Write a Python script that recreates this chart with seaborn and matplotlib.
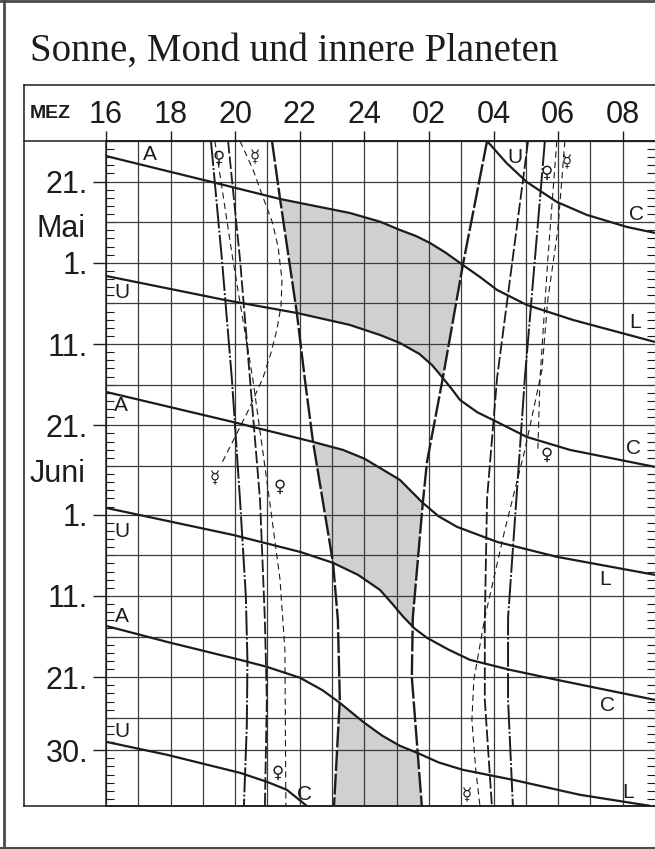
import numpy as np
import matplotlib
matplotlib.use("Agg")
import matplotlib.pyplot as plt
import seaborn as sns
from matplotlib.lines import Line2D

# ---------------- data ----------------
# x: time in hours MEZ (24 = midnight, 26 = 02 h, 33 = 09 h next morning)
# y: day of year (106 = 16 April, 121 = 1 May, 152 = 1 June, 181 = 30 June)
hour_ticks = [16, 18, 20, 22, 24, 26, 28, 30, 32]
hour_labels = ["16", "18", "20", "22", "24", "02", "04", "06", "08"]
date_ticks = [111, 121, 131, 141, 152, 162, 172, 181]
date_labels = ["21.", "1.", "11.", "21.", "1.", "11.", "21.", "30."]
month_labels = ["Mai", "Juni"]
month_days = [116.8, 147.0]
grid_days = [106, 111, 116, 121, 126, 131, 136, 141, 146, 152, 157, 162, 167, 172, 177, 181]

# Moon: A = Aufgang (rise), U = Untergang (set)
A1_h = [16.00, 19.28, 21.39, 23.55, 24.50, 25.10, 25.60, 26.03, 26.50, 27.05, 27.60, 28.11, 29.03, 30.46, 33.00]
A1_d = [107.85, 111.05, 113.14, 114.86, 115.95, 116.95, 117.70, 118.55, 119.70, 121.26, 122.80, 124.34, 126.18, 128.03, 130.74]
U0_h = [27.80, 28.40, 29.03, 29.96, 30.89, 32.13, 33.00]
U0_d = [106.00, 108.70, 111.05, 113.50, 115.10, 116.58, 117.32]
U1_h = [16.00, 19.68, 21.91, 23.55, 24.50, 25.10, 25.70, 26.10, 26.43, 26.70, 26.96, 27.50, 28.11, 29.03, 30.37, 33.00]
U1_d = [122.61, 125.57, 127.17, 128.64, 129.90, 130.86, 132.20, 133.60, 135.17, 136.50, 137.87, 139.40, 140.59, 142.43, 144.03, 146.12]
A2_h = [16.00, 19.93, 22.41, 23.34, 24.00, 24.48, 25.10, 25.81, 26.30, 26.87, 28.11, 29.96, 33.00]
A2_d = [136.89, 140.59, 143.04, 144.03, 145.10, 146.24, 147.72, 150.55, 152.20, 153.50, 155.35, 157.19, 159.41]
U2_h = [16.00, 19.93, 22.01, 23.03, 23.80, 24.48, 24.85, 25.19, 25.55, 25.94, 26.60, 27.27, 28.51, 29.96, 33.00]
U2_d = [151.16, 154.49, 156.58, 157.93, 159.40, 161.25, 162.90, 164.50, 166.00, 167.16, 168.60, 169.87, 171.10, 172.33, 174.80]
A3_h = [16.00, 17.89, 20.15, 20.98, 22.01, 22.70, 23.24, 23.96, 24.55, 25.10, 25.63, 26.30, 27.05, 28.60, 30.67, 32.84]
A3_d = [165.69, 167.66, 169.87, 170.73, 172.08, 173.60, 175.16, 177.50, 179.20, 180.45, 181.31, 182.50, 183.41, 184.64, 186.48, 187.84]
U3_h = [16.00, 17.89, 20.15, 20.98, 21.60, 22.25]
U3_d = [179.96, 181.56, 183.78, 184.88, 185.87, 187.96]

# Sun: sunset / sunrise, civil and astronomical twilight
sunset_h = [19.25, 19.59, 19.90, 20.15, 20.33, 20.38, 20.36, 20.27]
sunset_d = [106.0, 120.6, 135.4, 150.2, 162.0, 170.0, 178.0, 187.9]
civil_pm_h = [19.78, 20.15, 20.46, 20.77, 20.92, 20.98, 20.92]
civil_pm_d = [106.0, 120.6, 135.4, 150.2, 165.0, 174.8, 187.9]
astro_pm_h = [21.14, 21.39, 21.91, 22.16, 22.41, 23.03, 23.18, 23.24, 23.06]
astro_pm_d = [106.0, 113.14, 127.17, 135.41, 143.04, 157.93, 164.95, 174.79, 187.9]
astro_am_h = [27.80, 27.05, 26.43, 25.94, 25.81, 25.50, 25.47, 25.78]
astro_am_d = [106.0, 121.26, 135.17, 145.5, 150.55, 164.7, 172.0, 187.9]
civil_am_h = [29.07, 28.11, 27.80, 27.73, 27.73, 27.95]
civil_am_d = [106.0, 135.17, 150.0, 165.0, 174.8, 187.9]
sunrise_h = [29.59, 28.97, 28.45, 28.45, 28.60]
sunrise_d = [106.0, 135.17, 164.7, 174.8, 187.9]

# Inner planets
venus_pm_h = [19.37, 19.93, 20.55, 21.02, 21.39, 21.54, 21.57]
venus_pm_d = [106.0, 120.64, 135.41, 148.95, 160.02, 168.64, 187.9]
mercury_pm_h = [20.15, 20.55, 20.86, 21.15, 21.33, 21.45, 21.42, 21.29, 21.10, 20.86, 20.37, 19.59]
mercury_pm_d = [106.0, 109.5, 112.9, 116.0, 119.05, 123.1, 126.3, 129.26, 132.2, 135.17, 139.47, 145.63]
venus_am_h = [29.96, 29.68, 29.44, 29.37]
venus_am_d = [106.0, 120.64, 135.17, 144.27]
mercury_am_h = [30.21, 29.99, 29.68, 29.50, 28.97, 28.35, 27.73, 27.39, 27.33, 27.45, 27.58]
mercury_am_d = [106.0, 116.95, 125.57, 134.18, 144.03, 153.88, 164.7, 172.33, 177.26, 183.41, 187.9]

# Labels on the curves
moon_label_text = ["A", "U", "U", "A", "U", "A", "U", "L", "C", "C", "L", "C", "L", "C"]
moon_label_h = [17.36, 28.66, 16.50, 16.45, 16.50, 16.50, 16.50, 32.38, 32.44, 32.32, 31.45, 31.54, 32.16, 22.16]
moon_label_d = [107.7, 108.0, 124.7, 138.5, 154.1, 164.5, 178.75, 128.4, 115.1, 143.8, 160.0, 175.5, 186.2, 186.5]
planet_label_text = ["\u2640", "\u263f", "\u263f", "\u2640", "\u2640", "\u2640", "\u263f", "\u2640", "\u263f"]
planet_label_h = [19.50, 20.61, 19.37, 21.39, 21.33, 29.65, 30.27, 29.65, 27.18]
planet_label_d = [108.1, 108.0, 147.5, 148.6, 183.8, 109.9, 108.6, 144.6, 186.5]

title = "Sonne, Mond und innere Planeten"

# ---------------- style ----------------
sns.set_theme(style="white")
plt.rcParams["font.family"] = ["Liberation Sans", "DejaVu Sans"]
plt.rcParams["lines.scale_dashes"] = False
plt.rcParams["lines.solid_capstyle"] = "butt"
plt.rcParams["lines.dash_capstyle"] = "butt"
plt.rcParams["lines.solid_joinstyle"] = "round"

INK = "#1c1c1c"
GRID = "#3a3a3a"
W, H = 655, 849
fig = plt.figure(figsize=(W / 100, H / 100), dpi=100)
fig.patch.set_facecolor("white")

def fx(px):
    return px / W

def fy(py):
    return 1 - py / H

AX_L, AX_R, AX_T, AX_B = 106, 655, 141, 806.3
ax = fig.add_axes([fx(AX_L), fy(AX_B), (AX_R - AX_L) / W, (AX_B - AX_T) / H])
ax.set_facecolor("white")

# ---------------- dark (moonless night) region ----------------
moon_curves = [("A", A1_h, A1_d), ("U", U0_h, U0_d), ("U", U1_h, U1_d),
               ("A", A2_h, A2_d), ("U", U2_h, U2_d), ("A", A3_h, A3_d),
               ("U", U3_h, U3_d)]

def dark_segments(d):
    lo = np.interp(d, astro_pm_d, astro_pm_h)
    hi = np.interp(d, astro_am_d, astro_am_h)
    ev = []
    for kind, hs, ds in moon_curves:
        if ds[0] <= d <= ds[-1]:
            ev.append((float(np.interp(d, ds, hs)), kind))
    ev.sort()
    state_up = (ev[0][1] == "U") if ev else False
    for x, k in ev:
        if x <= lo:
            state_up = (k == "A")
    segs = []
    start = None if state_up else lo
    for x, k in ev:
        if lo < x < hi:
            if k == "A":
                if start is not None:
                    segs.append((start, x))
                    start = None
            else:
                if start is None:
                    start = x
    if start is not None:
        segs.append((start, hi))
    return segs

yy = np.linspace(106, 188, 4000)
seg = np.full((len(yy), 2, 2), np.nan)
for i, d in enumerate(yy):
    for j, (a, b) in enumerate(dark_segments(d)[:2]):
        seg[i, j] = [a, b]
for j in range(2):
    m = ~np.isnan(seg[:, j, 0])
    if m.any():
        ax.fill_betweenx(yy, np.nan_to_num(seg[:, j, 0]), np.nan_to_num(seg[:, j, 1]),
                         where=m, color="#d0d0d0", lw=0, zorder=0.3)

# ---------------- grid ----------------
ax.hlines(grid_days, 16, 33, colors=GRID, lw=0.9, zorder=0.6)

# ---------------- curves ----------------
def draw(h, d, ls="-", lw=1.6):
    sns.lineplot(x=h, y=d, sort=False, estimator=None, ax=ax, color=INK,
                 linestyle=ls, lw=lw, zorder=3)

for _, hs, ds in moon_curves:
    draw(hs, ds, "-", 1.6)

dashdot = (0, (18, 1.6, 1.4, 1.6))
civil = (0, (9, 2.2))
astro = (0, (15, 2.0))
thin = (0, (4.5, 3.0))
draw(sunset_h, sunset_d, dashdot, 1.4)
draw(sunrise_h, sunrise_d, dashdot, 1.4)
draw(civil_pm_h, civil_pm_d, civil, 1.3)
draw(civil_am_h, civil_am_d, civil, 1.3)
draw(astro_pm_h, astro_pm_d, astro, 1.7)
draw(astro_am_h, astro_am_d, astro, 1.7)
draw(venus_pm_h, venus_pm_d, thin, 0.8)
draw(venus_am_h, venus_am_d, thin, 0.8)
draw(mercury_pm_h, mercury_pm_d, thin, 0.8)
draw(mercury_am_h, mercury_am_d, thin, 0.8)

for t, h, d in zip(moon_label_text, moon_label_h, moon_label_d):
    ax.text(h, d, t, fontsize=15, color=INK, ha="center", va="center",
            family=["Liberation Sans", "DejaVu Sans"], zorder=4)
for t, h, d in zip(planet_label_text, planet_label_h, planet_label_d):
    ax.text(h, d, t, fontsize=12, color=INK, ha="center", va="center",
            family=["DejaVu Sans"], zorder=4)

# ---------------- axes ----------------
ax.set_xlim(16, 33)
ax.set_ylim(187.9, 106)
ax.set_xlabel("")
ax.set_ylabel("")

ax.xaxis.tick_top()
ax.set_xticks(hour_ticks)
ax.set_xticklabels(hour_labels)
ax.set_xticks(np.arange(17, 33, 2), minor=True)
ax.tick_params(axis="x", which="major", direction="out", length=7.2, width=1.0,
               pad=1.0, labelsize=22, colors=INK, top=True, bottom=False)
ax.tick_params(axis="x", which="minor", length=0, top=False, bottom=False)
ax.grid(True, axis="x", which="both", color=GRID, lw=0.9)

ax.set_yticks(date_ticks)
ax.set_yticklabels(date_labels)
ax.set_yticks(np.arange(106, 188), minor=True)
ax.tick_params(axis="y", which="major", direction="out", length=9.4, width=1.0,
               pad=3.5, labelsize=22, colors=INK, left=True, right=False)
ax.tick_params(axis="y", which="minor", direction="in", length=6.0, width=0.8,
               color=INK, left=True, right=True)
for lab in ax.get_xticklabels() + ax.get_yticklabels():
    lab.set_family(["Liberation Sans", "DejaVu Sans"])

for t, d in zip(month_labels, month_days):
    ax.text(-0.038, d, t, transform=ax.get_yaxis_transform(), ha="right", va="center",
            fontsize=22, color=INK)

for s in ["left", "top", "bottom"]:
    ax.spines[s].set_color(INK)
    ax.spines[s].set_linewidth(1.1)
ax.spines["right"].set_visible(False)

# ---------------- frame, header, title ----------------
def fline(x0, y0, x1, y1, lw=1.1, color=INK):
    fig.add_artist(Line2D([fx(x0), fx(x1)], [fy(y0), fy(y1)], transform=fig.transFigure,
                          lw=lw, color=color, solid_capstyle="projecting"))

fline(24, 85, 655, 85)
fline(24, 85, 24, 806.3)
fline(24, 141, 655, 141)
fline(24, 806.3, 655, 806.3)
# page border
fline(4, 0, 4, 849, lw=2.0, color="#4a4a4a")
fline(0, 1.2, 655, 1.2, lw=2.0, color="#4a4a4a")
fline(0, 847.5, 655, 847.5, lw=2.2, color="#4a4a4a")

fig.text(fx(30), fy(114), "MEZ", fontsize=14, fontweight="bold", va="center", ha="left",
         color=INK)
fig.text(fx(30), fy(61), title, fontsize=28, va="baseline", ha="left", color=INK,
         family=["Liberation Serif", "DejaVu Serif"])

fig.savefig("out.png", dpi=100, facecolor="white")
